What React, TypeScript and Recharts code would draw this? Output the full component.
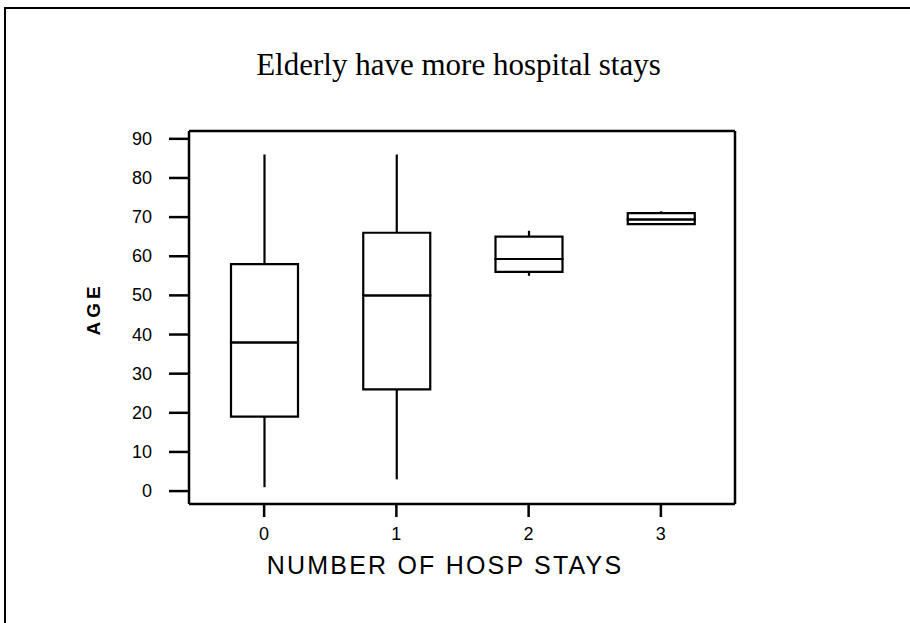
import { ComposedChart, Bar, XAxis, YAxis, CartesianGrid } from 'recharts';

// five-number summaries of AGE for each number of hospital stays
const stays = ['0', '1', '2', '3'];
const whiskerLow = [1, 3, 55, 68];
const quartile1 = [19, 26, 56, 68.2];
const medians = [38, 50, 59.3, 69.4];
const quartile3 = [58, 66, 65, 71];
const whiskerHigh = [86, 86, 66.5, 71.5];
const ageTicks = [0, 10, 20, 30, 40, 50, 60, 70, 80, 90];

// stacked segments: invisible base, lower whisker, two box halves, upper whisker
const rows = stays.map((s, i) => ({
  stays: s,
  base: whiskerLow[i],
  lowWhisker: quartile1[i] - whiskerLow[i],
  lowBox: medians[i] - quartile1[i],
  highBox: quartile3[i] - medians[i],
  highWhisker: whiskerHigh[i] - quartile3[i],
}));

const axisStroke = { stroke: '#000', strokeWidth: 2.5 };
const sans = '"Liberation Sans", Arial, sans-serif';

// eslint-disable-next-line @typescript-eslint/no-explicit-any
const Whisker = (props: any) => {
  const { x, y, width, height } = props;
  const cx = x + width / 2;
  return <line x1={cx} x2={cx} y1={y} y2={y + height} stroke="#000" strokeWidth={2.2} />;
};

// eslint-disable-next-line @typescript-eslint/no-explicit-any
const AgeTick = (props: any) => {
  const { x, y, payload } = props;
  return (
    <text x={x} y={y} dy={6} textAnchor="end" fill="#000" fontSize={18} fontFamily={sans}>
      {payload.value}
    </text>
  );
};

// eslint-disable-next-line @typescript-eslint/no-explicit-any
const StaysTick = (props: any) => {
  const { x, y, payload } = props;
  return (
    <text x={x} y={y} dy={13} textAnchor="middle" fill="#000" fontSize={18} fontFamily={sans}>
      {payload.value}
    </text>
  );
};

export default function App() {
  return (
    <div style={{ position: 'absolute', left: 0, top: 0, width: 910, height: 623, background: '#fff', overflow: 'hidden' }}>
      <div
        style={{
          position: 'absolute', left: 4, top: 7, width: 920, height: 640,
          borderLeft: '2px solid #000', borderTop: '2px solid #000',
        }}
      />
      <div
        style={{
          position: 'absolute', left: 0, width: 917, top: 46, textAlign: 'center',
          fontFamily: '"Liberation Serif", "Times New Roman", serif', fontSize: 31, lineHeight: '38px',
        }}
      >
        Elderly have more hospital stays
      </div>
      <div
        style={{
          position: 'absolute', left: 94, top: 309, transform: 'translate(-50%, -50%) rotate(-90deg)',
          fontFamily: sans, fontWeight: 700, fontSize: 19, letterSpacing: 4, whiteSpace: 'nowrap',
        }}
      >
        AGE
      </div>
      <div
        style={{
          position: 'absolute', left: 0, width: 890, top: 550, textAlign: 'center',
          fontFamily: sans, fontSize: 25, letterSpacing: 2.2, lineHeight: '30px', whiteSpace: 'nowrap',
        }}
      >
        NUMBER OF HOSP STAYS
      </div>
      <div style={{ position: 'absolute', left: 0, top: 0 }}>
        <ComposedChart
          width={910}
          height={623}
          data={rows}
          margin={{ top: 131, right: 175, bottom: 0, left: 0 }}
          barCategoryGap={0}
        >
          {/* top and right edges of the plot frame */}
          <CartesianGrid
            stroke="#000"
            strokeWidth={2.5}
            horizontalCoordinatesGenerator={({ offset }: any) => [offset.top]}
            verticalCoordinatesGenerator={({ offset }: any) => [offset.left + offset.width]}
          />
          <XAxis
            dataKey="stays"
            type="category"
            height={119}
            padding={{ left: 9, right: 8 }}
            axisLine={axisStroke}
            tickLine={axisStroke}
            tickSize={13}
            tickMargin={10}
            tick={<StaysTick />}
          />
          <YAxis
            type="number"
            width={189}
            domain={[-3.3, 92]}
            ticks={ageTicks}
            interval={0}
            axisLine={axisStroke}
            tickLine={axisStroke}
            tickSize={20}
            tickMargin={17}
            tick={<AgeTick />}
          />
          <Bar dataKey="base" stackId="box" barSize={67} fill="none" isAnimationActive={false} />
          <Bar dataKey="lowWhisker" stackId="box" barSize={67} shape={Whisker} isAnimationActive={false} />
          <Bar dataKey="lowBox" stackId="box" barSize={67} fill="#fff" stroke="#000" strokeWidth={2.2} isAnimationActive={false} />
          <Bar dataKey="highBox" stackId="box" barSize={67} fill="#fff" stroke="#000" strokeWidth={2.2} isAnimationActive={false} />
          <Bar dataKey="highWhisker" stackId="box" barSize={67} shape={Whisker} isAnimationActive={false} />
        </ComposedChart>
      </div>
    </div>
  );
}
